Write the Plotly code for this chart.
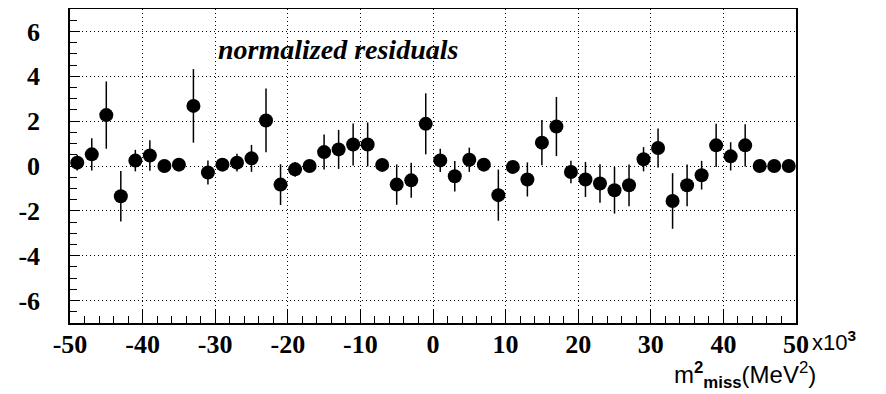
import plotly.graph_objects as go

# bin centres (x10^3 MeV^2)
x_vals = [-49, -47, -45, -43, -41, -39, -37, -35, -33, -31,
          -29, -27, -25, -23, -21, -19, -17, -15, -13, -11,
          -9, -7, -5, -3, -1, 1, 3, 5, 7, 9,
          11, 13, 15, 17, 19, 21, 23, 25, 27, 29,
          31, 33, 35, 37, 39, 41, 43, 45, 47, 49]

residuals = [0.15, 0.52, 2.27, -1.35, 0.24, 0.47, 0.0, 0.06, 2.68, -0.29,
             0.06, 0.15, 0.34, 2.03, -0.83, -0.15, 0.0, 0.62, 0.74, 0.96,
             0.96, 0.05, -0.83, -0.64, 1.88, 0.25, -0.46, 0.28, 0.06, -1.30,
             -0.04, -0.60, 1.04, 1.76, -0.27, -0.60, -0.78, -1.08, -0.86, 0.30,
             0.80, -1.56, -0.86, -0.41, 0.92, 0.43, 0.92, 0.0, 0.0, 0.0]

errors = [0.35, 0.72, 1.50, 1.13, 0.48, 0.68, 0.20, 0.20, 1.64, 0.54,
          0.25, 0.40, 0.60, 1.42, 0.91, 0.33, 0.25, 0.78, 0.87, 0.94,
          0.98, 0.25, 0.90, 0.78, 1.36, 0.52, 0.68, 0.54, 0.25, 1.14,
          0.25, 0.76, 1.01, 1.32, 0.50, 0.78, 0.86, 1.04, 0.93, 0.54,
          0.87, 1.24, 0.93, 0.64, 0.96, 0.63, 0.94, 0.0, 0.0, 0.0]

x_ticks = [-50, -40, -30, -20, -10, 0, 10, 20, 30, 40, 50]
y_ticks = [-6, -4, -2, 0, 2, 4, 6]

# page body adds an 8px offset; figure sized to fit the window after it
OFF = 8
W, H = 886 - OFF, 394 - OFF
L, T = 70 - OFF, 9 - OFF
PW, PH = 726, 314
R, B = W - L - PW, H - T - PH

fig = go.Figure()
fig.add_trace(go.Scatter(
    x=x_vals, y=residuals, mode="markers",
    marker=dict(color="black", size=14, symbol="circle"),
    error_y=dict(type="data", array=errors, visible=True,
                 color="black", thickness=1.5, width=0),
    showlegend=False,
))

tickfont = dict(family="Liberation Serif", size=26, color="black")
grid_dash = "1px,3px"

fig.update_xaxes(
    range=[-50, 50], tickvals=x_ticks,
    ticktext=["<b>%d</b>" % v for v in x_ticks],
    showline=True, linecolor="black", linewidth=1.5, mirror=True,
    showgrid=True, gridcolor="black", griddash=grid_dash, gridwidth=1,
    zeroline=False, automargin=False,
    ticks="inside", ticklen=13, tickwidth=1.2, tickcolor="black",
    minor=dict(dtick=2, tick0=0, ticks="inside", ticklen=7, tickwidth=1.2,
               tickcolor="black", showgrid=False),
    tickfont=tickfont, ticklabelstandoff=-3,
)
fig.update_yaxes(
    range=[-7, 7], tickvals=y_ticks,
    ticktext=["<b>%d</b>" % v for v in y_ticks],
    showline=True, linecolor="black", linewidth=1.5, mirror=True,
    showgrid=True, gridcolor="black", griddash=grid_dash, gridwidth=1,
    zeroline=False, automargin=False,
    ticks="inside", ticklen=10, tickwidth=1.2, tickcolor="black",
    minor=dict(dtick=0.5, tick0=0, ticks="inside", ticklen=7, tickwidth=1.2,
               tickcolor="black", showgrid=False),
    tickfont=tickfont, ticklabelstandoff=23,
)

fig.update_layout(
    width=W, height=H,
    margin=dict(l=L, r=R, t=T, b=B),
    paper_bgcolor="white", plot_bgcolor="white",
    annotations=[
        dict(text="<b><i>normalized residuals</i></b>",
             x=(216 - 70) / PW, y=1 - (50 - 9) / PH,
             xref="paper", yref="paper", showarrow=False,
             font=dict(family="Liberation Serif", size=28, color="black"),
             xanchor="left", yanchor="middle"),
        dict(text="x10<sup><b>3</b></sup>", x=1.0, y=0, xref="paper", yref="paper",
             xshift=15, yshift=-18, showarrow=False, borderpad=0,
             font=dict(family="Liberation Sans", size=22, color="black"),
             xanchor="left", yanchor="middle"),
        dict(text="m<sup><b>2</b></sup><sub><b>miss</b></sub>(MeV<sup>2</sup>)",
             x=1.0, y=0, xref="paper", yref="paper",
             xshift=21, yshift=-52, showarrow=False, borderpad=0,
             font=dict(family="Liberation Sans", size=24, color="black"),
             xanchor="right", yanchor="middle"),
    ],
)

fig.write_html("out.html")
